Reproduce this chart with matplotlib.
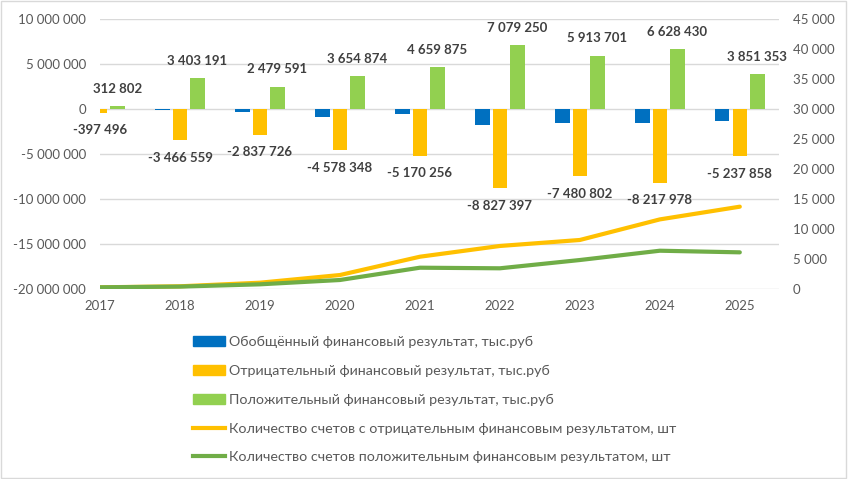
import numpy as np
import matplotlib
matplotlib.use("Agg")
import matplotlib.pyplot as plt
from matplotlib.patches import Rectangle, Patch
from matplotlib.lines import Line2D

plt.rcParams['font.family'] = ['Lato', 'DejaVu Sans']

years = ['2017', '2018', '2019', '2020', '2021', '2022', '2023', '2024', '2025']
total = [-84694, -63368, -358135, -923474, -510381, -1748147, -1567101, -1589548, -1386505]
negative = [-397496, -3466559, -2837726, -4578348, -5170256, -8827397, -7480802, -8217978, -5237858]
positive = [312802, 3403191, 2479591, 3654874, 4659875, 7079250, 5913701, 6628430, 3851353]
neg_count = [280, 450, 1050, 2330, 5380, 7170, 8170, 11600, 13720]
pos_count = [280, 400, 780, 1500, 3550, 3450, 4830, 6380, 6110]

labels = ['Обобщённый финансовый результат, тыс.руб',
          'Отрицательный финансовый результат, тыс.руб',
          'Положительный финансовый результат, тыс.руб',
          'Количество счетов с отрицательным финансовым результатом, шт',
          'Количество счетов положительным финансовым результатом, шт']

c_blue = '#0070C0'
c_yel = '#FFC000'
c_grn = '#92D050'
c_grn_line = '#70AD47'
c_text = '#595959'
c_lab = '#404040'


def fmt(v):
    return f"{v:,.0f}".replace(",", " ")


fig = plt.figure(figsize=(8.48, 4.79), dpi=100)
ax = fig.add_axes([100 / 848, 1 - 289 / 479, 679 / 848, 270 / 479])
ax2 = ax.twinx()

x = np.arange(len(years))
w = 0.18
off = 0.219
ax.bar(x - off, total, w, color=c_blue)
ax.bar(x, negative, w, color=c_yel)
ax.bar(x + off, positive, w, color=c_grn)

# подписи значений над зелёными и под жёлтыми столбцами
for i in range(len(years)):
    ax.annotate(fmt(positive[i]), (x[i] + off, positive[i]), xytext=(0, 12.5),
                textcoords='offset points', ha='center', va='center',
                fontsize=9.5, fontweight='bold', color=c_lab)
    ax.annotate(fmt(negative[i]), (x[i], negative[i]), xytext=(0, -12.5),
                textcoords='offset points', ha='center', va='center',
                fontsize=9.5, fontweight='bold', color=c_lab)

ax2.plot(x, neg_count, color=c_yel, lw=3, solid_joinstyle='round', solid_capstyle='round')
ax2.plot(x, pos_count, color=c_grn_line, lw=3, solid_joinstyle='round', solid_capstyle='round')

ax.set_xlim(0, 8.49)
ax.set_ylim(-20000000, 10000000)
ax2.set_ylim(0, 45000)
ax.set_xticks(x)
ax.set_xticklabels(years)
left_ticks = np.arange(-20000000, 10000001, 5000000)
right_ticks = np.arange(0, 45001, 5000)
ax.set_yticks(left_ticks)
ax.set_yticklabels([fmt(v) for v in left_ticks])
ax2.set_yticks(right_ticks)
ax2.set_yticklabels([fmt(v) for v in right_ticks])

ax.grid(axis='y', color='#D9D9D9', lw=1)
ax.set_axisbelow(True)
for a in (ax, ax2):
    for s in a.spines.values():
        s.set_visible(False)
    a.tick_params(length=0, labelsize=9.5, colors=c_text)
ax.tick_params(axis='y', pad=10)
ax.tick_params(axis='x', pad=8)
ax2.tick_params(axis='y', pad=10)

handles = [Patch(color=c_blue), Patch(color=c_yel), Patch(color=c_grn),
           Line2D([], [], color=c_yel, lw=3), Line2D([], [], color=c_grn_line, lw=3)]
leg = fig.legend(handles, labels, loc='upper left', bbox_to_anchor=(193 / 848, 1 - 336 / 479),
                 frameon=False, fontsize=10.3, handlelength=2.25, handletextpad=0.28,
                 labelspacing=1.17, borderpad=0, borderaxespad=0)
for t in leg.get_texts():
    t.set_color(c_text)

fig.patches.append(Rectangle((0.001, 0.002), 0.997, 0.995, transform=fig.transFigure,
                             fill=False, edgecolor='#D9D9D9', lw=1))

fig.savefig('out.png', dpi=100)
